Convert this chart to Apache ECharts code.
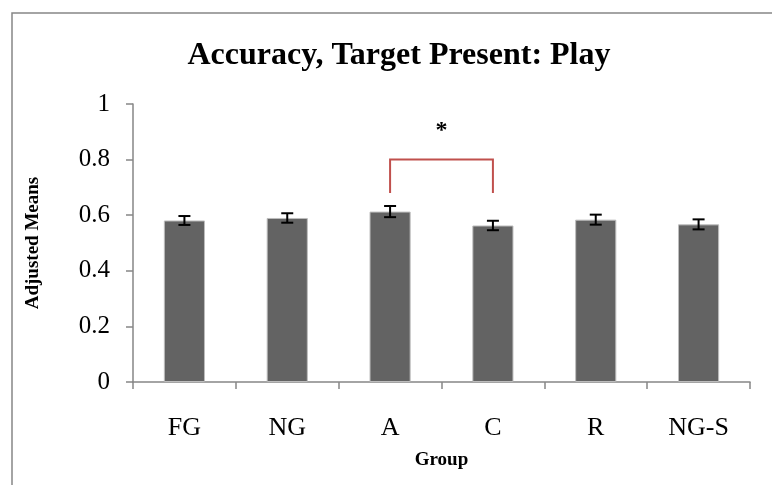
<!DOCTYPE html>
<html>
<head>
<meta charset="utf-8">
<script src="https://cdn.jsdelivr.net/npm/echarts@6/dist/echarts.min.js"></script>
<style>html,body{margin:0;padding:0;background:#fff;}#chart{width:772px;height:485px;}</style>
</head>
<body>
<div id="chart"></div>
<script>
const titleText = 'Accuracy, Target Present: Play';
const categories = ['FG', 'NG', 'A', 'C', 'R', 'NG-S'];
const means = [0.581, 0.590, 0.613, 0.563, 0.584, 0.567];
const errors = [0.016, 0.017, 0.020, 0.017, 0.018, 0.018];
const yMin = 0, yMax = 1, yInterval = 0.2;
const xAxisName = 'Group';
const yAxisName = 'Adjusted Means';
const bracketFrom = 'A', bracketTo = 'C';
const bracketLow = 0.68, bracketHigh = 0.80, starValue = 0.905;
const starText = '*';

const FONT = '"Liberation Serif", "Times New Roman", serif';
const chart = echarts.init(document.getElementById('chart'), null, {renderer: 'canvas'});

const errData = categories.map((c, i) => [i, means[i], errors[i]]);

const option = {
  backgroundColor: '#fff',
  animation: false,
  title: {
    text: titleText, left: 394, textAlign: 'center', top: 35,
    textStyle: {fontFamily: FONT, fontWeight: 'bold', fontSize: 32, color: '#000'}
  },
  grid: {left: 133, right: 22, top: 104, bottom: 103, containLabel: false},
  xAxis: {
    type: 'category', data: categories,
    name: xAxisName, nameLocation: 'middle', nameGap: 69,
    nameTextStyle: {fontFamily: FONT, fontWeight: 'bold', fontSize: 19, color: '#000'},
    axisLine: {lineStyle: {color: '#868686', width: 1.5}},
    axisTick: {show: true, alignWithLabel: false, length: 7, lineStyle: {color: '#868686', width: 1.5}},
    axisLabel: {fontFamily: FONT, fontSize: 26, color: '#000', margin: 33}
  },
  yAxis: {
    type: 'value', min: yMin, max: yMax, interval: yInterval,
    name: yAxisName, nameLocation: 'middle', nameGap: 90, nameRotate: 90,
    nameTextStyle: {fontFamily: FONT, fontWeight: 'bold', fontSize: 19, color: '#000'},
    axisLine: {show: true, lineStyle: {color: '#868686', width: 1.5}},
    axisTick: {show: true, length: 7, lineStyle: {color: '#868686', width: 1.5}},
    splitLine: {show: false},
    axisLabel: {fontFamily: FONT, fontSize: 25, color: '#000', margin: 23}
  },
  graphic: [
    {type: 'polyline', shape: {points: [[12, 485], [12, 13], [772, 13]]}, style: {stroke: '#868686', lineWidth: 1.5, fill: null}, silent: true}
  ],
  series: [
    {
      type: 'bar', data: means, barWidth: '40%',
      itemStyle: {color: '#636363', borderColor: '#bdbdbd', borderWidth: 1}
    },
    {
      type: 'custom', data: errData, z: 5,
      renderItem: function (params, api) {
        const x = api.value(0), m = api.value(1), e = api.value(2);
        const top = api.coord([x, m + e]);
        const bot = api.coord([x, m - e]);
        const hw = 6;
        const st = {stroke: '#000', lineWidth: 2};
        return {type: 'group', children: [
          {type: 'line', shape: {x1: top[0], y1: top[1], x2: bot[0], y2: bot[1]}, style: st},
          {type: 'line', shape: {x1: top[0] - hw, y1: top[1], x2: top[0] + hw, y2: top[1]}, style: st},
          {type: 'line', shape: {x1: bot[0] - hw, y1: bot[1], x2: bot[0] + hw, y2: bot[1]}, style: st}
        ]};
      }
    },
    {
      type: 'custom', data: [[categories.indexOf(bracketFrom), categories.indexOf(bracketTo), bracketLow, bracketHigh, starValue]], z: 6,
      renderItem: function (params, api) {
        const a = api.value(0), b = api.value(1), lo = api.value(2), hi = api.value(3), sv = api.value(4);
        const p1 = api.coord([a, lo]), p2 = api.coord([a, hi]);
        const p3 = api.coord([b, hi]), p4 = api.coord([b, lo]);
        const sy = api.coord([a, sv])[1];
        const sx = (p2[0] + p3[0]) / 2;
        return {type: 'group', children: [
          {type: 'polyline', shape: {points: [p1, p2, p3, p4]}, style: {stroke: '#c0504d', lineWidth: 2, fill: null}},
          {type: 'text', x: sx, y: sy, style: {text: starText, font: 'bold 24px ' + FONT, fill: '#000', align: 'center', verticalAlign: 'middle'}}
        ]};
      }
    }
  ]
};
chart.setOption(option);
</script>
</body>
</html>
